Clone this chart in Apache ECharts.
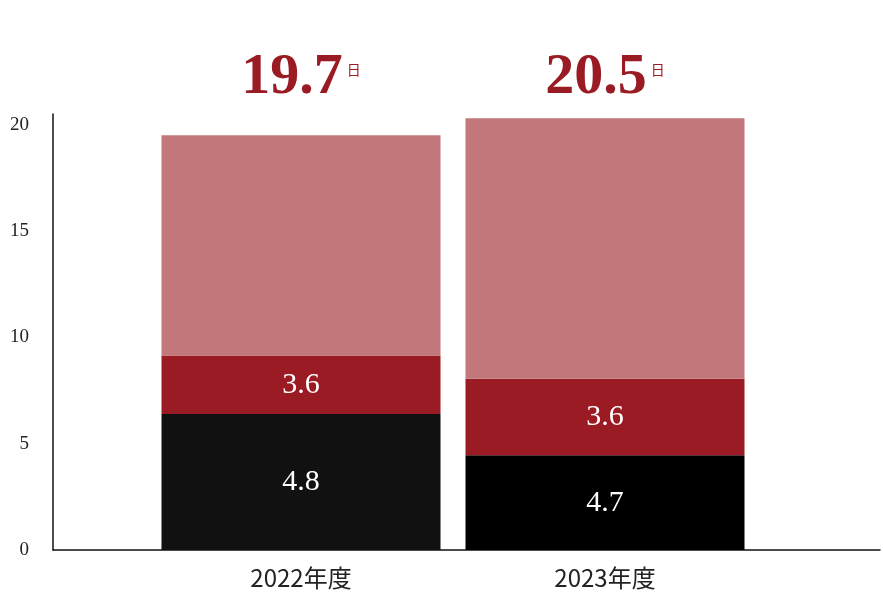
<!DOCTYPE html>
<html><head><meta charset="utf-8">
<script src="https://cdn.jsdelivr.net/npm/echarts@6/dist/echarts.min.js"></script>
<style>html,body{margin:0;padding:0;background:#fff}#c{width:883px;height:605px}</style>
</head><body><div id="c"></div>
<script>
const categories = ['2022年度', '2023年度'];
const bottomHeights = [6.4, 4.45];
const middleHeights = [2.75, 3.6];
const topHeights = [10.35, 12.25];
const bottomLabels = ['4.8', '4.7'];
const middleLabels = ['3.6', '3.6'];
const topLabels = ['11.3', '12.2'];
const totals = ['19.7', '20.5'];
const yTicks = [0, 5, 10, 15, 20];

const serif = '"Liberation Serif", "DejaVu Serif", serif';
const chart = echarts.init(document.getElementById('c'));
const segLabel = (labels) => ({
  show: true, color: '#fff', fontFamily: serif, fontSize: 30,
  formatter: p => labels[p.dataIndex]
});
chart.setOption({
  animation: false,
  grid: [
    {left: 149, right: 126, top: 114, bottom: 55},
    {left: 53, right: 3, top: 114, bottom: 55}
  ],
  xAxis: [
    {type: 'category', data: categories, gridIndex: 0, axisLine: {show: false}, axisTick: {show: false},
     axisLabel: {color: '#222', fontSize: 24, fontFamily: '"Noto Sans CJK JP", sans-serif', margin: 16}},
    {type: 'category', data: [''], gridIndex: 1, axisLine: {lineStyle: {color: '#111', width: 1.5}},
     axisTick: {show: false}, axisLabel: {show: false}}
  ],
  yAxis: [
    {type: 'value', gridIndex: 0, min: 0, max: 20.5, interval: 5, offset: 96,
     axisLine: {show: true, lineStyle: {color: '#111', width: 1.5}}, axisTick: {show: false},
     splitLine: {show: false},
     axisLabel: {color: '#222', fontFamily: serif, fontSize: 19, margin: 24,
       formatter: v => yTicks.includes(v) ? String(v) : ''}},
    {type: 'value', gridIndex: 1, show: false}
  ],
  series: [
    {type: 'bar', stack: 's', barWidth: 279,
     data: bottomHeights.map((v, i) => ({value: v, itemStyle: {color: i === 0 ? '#111111' : '#000000'}})),
     label: segLabel(bottomLabels)},
    {type: 'bar', stack: 's', barWidth: 279, itemStyle: {color: '#9b1b24'},
     data: middleHeights, label: segLabel(middleLabels)},
    {type: 'bar', stack: 's', barWidth: 279, itemStyle: {color: '#c2777b'},
     data: topHeights.map((v, i) => ({value: v, label: {
       show: true, position: 'top', distance: i === 0 ? 28 : 11,
       formatter: '{n|' + totals[i] + '}{u|日}',
       rich: {n: {fontFamily: serif, fontSize: 58, color: '#9b1b24', fontWeight: 'bold'},
              u: {fontSize: 14, color: '#9b1b24', fontFamily: '"Noto Sans CJK JP", sans-serif', padding: [0, 0, 18, 4]}}
     }})),
     label: segLabel(topLabels)}
  ]
});
// inner segment labels of top series
chart.setOption({series: [{}, {}, {
  labelLayout: null
}]});
</script></body></html>
